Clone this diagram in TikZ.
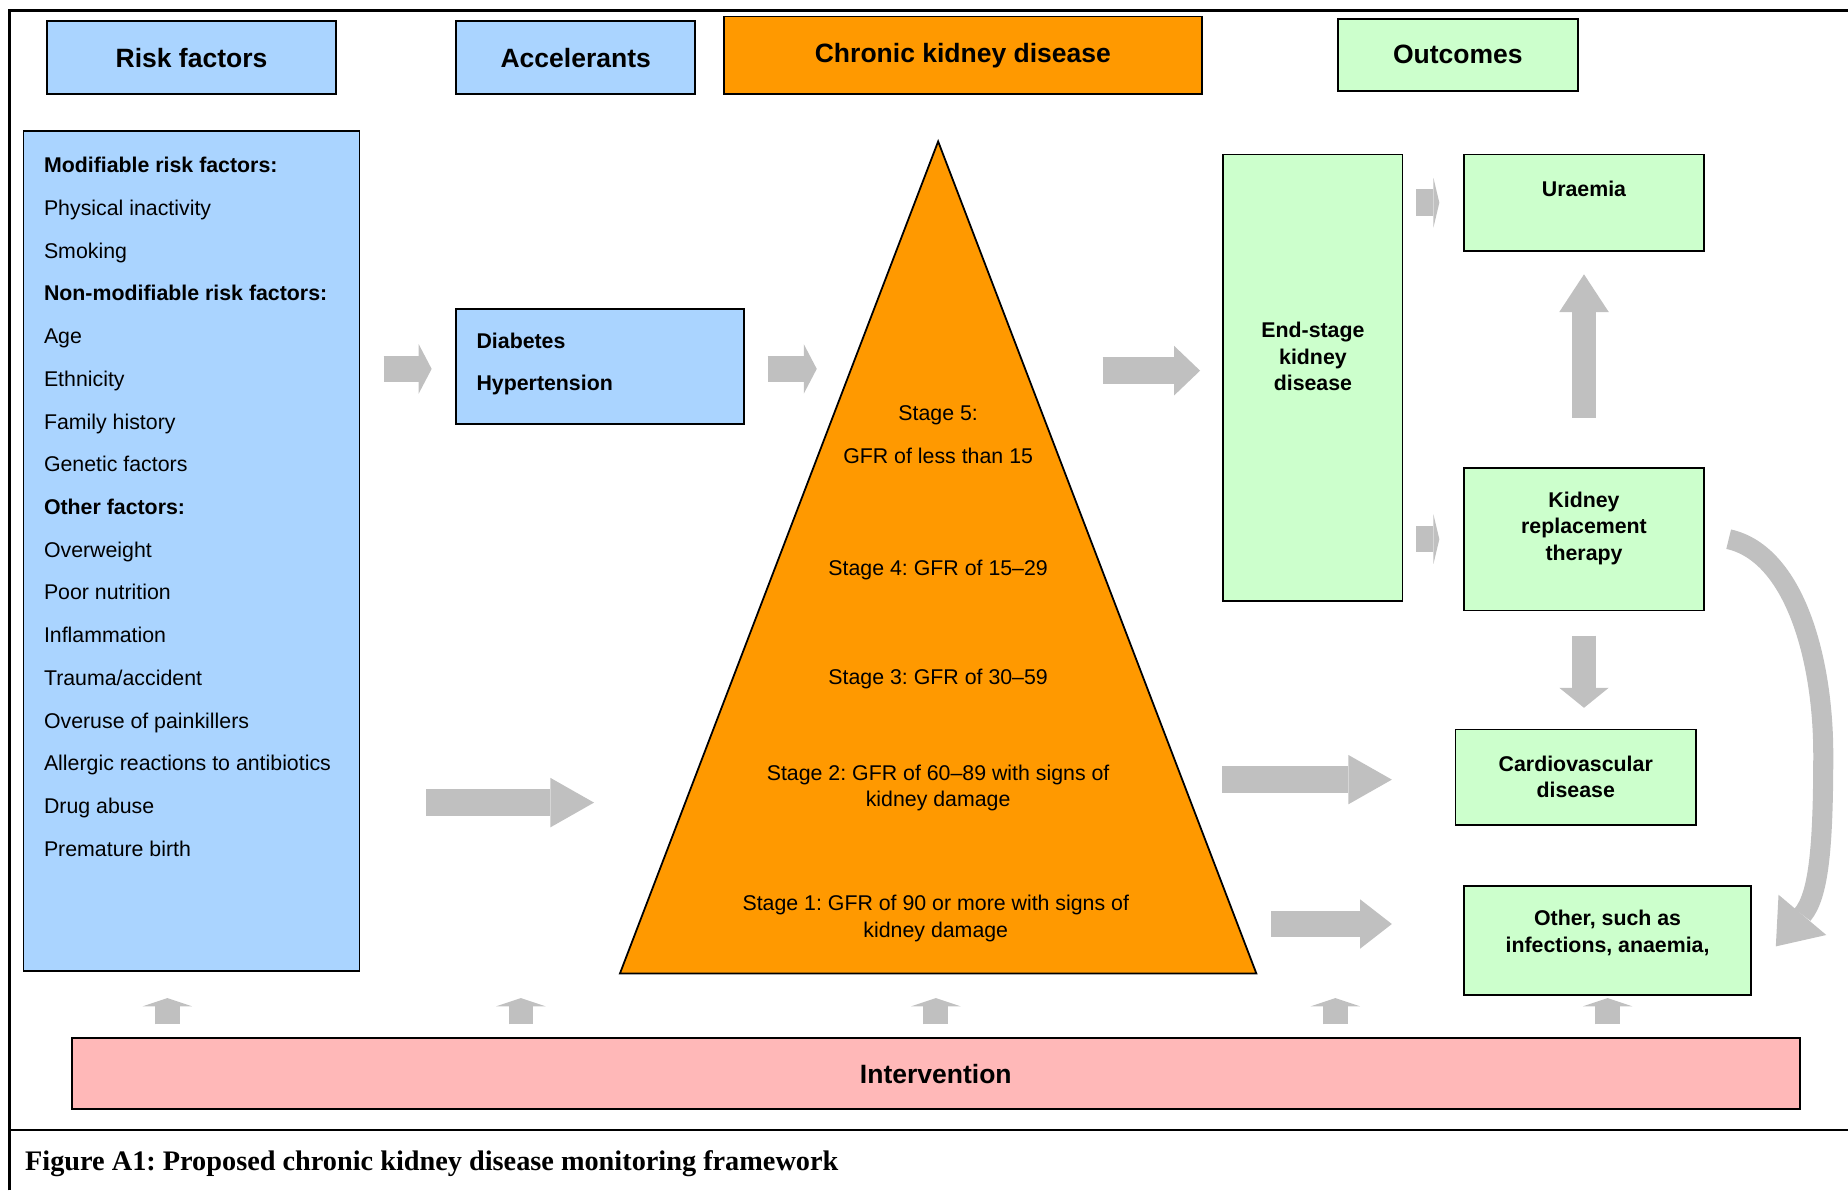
\documentclass[tikz,border=0pt]{standalone}
\usepackage{fontspec}
\setmainfont{Liberation Sans}
\newfontfamily\capfont{Liberation Serif}
\usetikzlibrary{arrows.meta}
\definecolor{ink}{HTML}{000000}
\definecolor{riskblue}{HTML}{AAD4FF}
\definecolor{ckdorange}{HTML}{FF9900}
\definecolor{outgreen}{HTML}{CCFFCC}
\definecolor{intpink}{HTML}{FFB8B8}
\definecolor{arrgray}{HTML}{C0C0C0}
\newlength{\pxu}
\setlength{\pxu}{0.02cm}
\frenchspacing

\begin{document}
\begin{tikzpicture}[
  x=0.02cm,y=-0.02cm,
  frame/.style={draw=ink,line width=2\pxu},
  hdr/.style={draw=ink,line width=1.5\pxu,inner sep=0pt,font=\fontsize{12.8}{15}\selectfont\bfseries},
  box/.style={draw=ink,line width=1.5\pxu,inner sep=0pt},
  txt/.style={inner sep=0pt,align=center,font=\fontsize{10.3}{12.8}\selectfont},
  btxt/.style={txt,font=\fontsize{10.3}{12.8}\selectfont\bfseries},
  item/.style={anchor=base west,inner sep=0pt,font=\fontsize{10.3}{12.8}\selectfont},
  blk/.style={draw=arrgray,line width=22.5\pxu,-{Triangle[width=0.84cm,length=#1,line width=0pt]}},
  curv/.style={draw=arrgray,line width=17\pxu,-{Triangle[width=1.06cm,length=0.7cm,line width=0pt]}}
]
\useasboundingbox (0,0) rectangle (1568,1010);
\draw[frame] (8,1010) -- (8,9) -- (1568,9);
\draw[frame] (8,959) -- (1568,959);

% column headers
\node[hdr,fill=riskblue,minimum width=245\pxu,minimum height=62\pxu] (hrisk) at (162.5,49) {Risk factors};
\node[hdr,fill=riskblue,minimum width=203\pxu,minimum height=62\pxu] (hacc) at (488.5,49) {Accelerants};
\node[hdr,fill=ckdorange,minimum width=406\pxu,minimum height=66\pxu] (hckd) at (817,47) {Chronic kidney disease};
\node[hdr,fill=outgreen,minimum width=204\pxu,minimum height=61\pxu] (hout) at (1237,46.5) {Outcomes};

% risk factors
\node[box,fill=riskblue,minimum width=285\pxu,minimum height=713\pxu] (rbox) at (162.5,467.5) {};
\foreach \itm [count=\i from 0] in {\textbf{Modifiable risk factors:},Physical inactivity,Smoking,
  \textbf{Non-modifiable risk factors:},Age,Ethnicity,Family history,Genetic factors,
  \textbf{Other factors:},Overweight,Poor nutrition,Inflammation,Trauma/accident,
  Overuse of painkillers,Allergic reactions to antibiotics,Drug abuse,Premature birth}
  \node[item] (rf\i) at (37,{146.5+36.25*\i}) {\itm};

% accelerants
\node[box,fill=riskblue,minimum width=244\pxu,minimum height=98\pxu] (diab) at (509,311) {};
\node[item,font=\fontsize{10.3}{12.8}\selectfont\bfseries] (diabt) at (404,295.5) {Diabetes};
\node[item,font=\fontsize{10.3}{12.8}\selectfont\bfseries] (hypt) at (404,331.5) {Hypertension};

% ckd stages
\coordinate (apex) at (796,120);
\coordinate (ckdbl) at (526,826);
\coordinate (ckdbr) at (1066,826);
\draw[draw=ink,fill=ckdorange,line width=1.5\pxu] (apex) -- (ckdbr) -- (ckdbl) -- cycle;
\node[txt] (s5a) at (796,352) {Stage 5:};
\node[txt] (s5b) at (796,387) {GFR of less than 15};
\node[txt] (s4) at (796,484) {Stage 4: GFR of 15\textendash29};
\node[txt] (s3) at (796,576) {Stage 3: GFR of 30\textendash59};
\node[txt] (s2) at (796,668.5) {Stage 2: GFR of 60\textendash89 with signs of\\kidney damage};
\node[txt] (s1) at (794,779.5) {Stage 1: GFR of 90 or more with signs of\\kidney damage};

% outcomes
\node[box,fill=outgreen,minimum width=152\pxu,minimum height=379\pxu] (eskd) at (1114,320.5) {};
\node[btxt] (eskdt) at (1114,302.5) {End-stage\\kidney\\disease};
\node[box,fill=outgreen,minimum width=204\pxu,minimum height=82\pxu] (ura) at (1344,172) {};
\node[btxt] (urat) at (1344,160) {Uraemia};
\node[box,fill=outgreen,minimum width=204\pxu,minimum height=121\pxu] (krt) at (1344,457.5) {};
\node[btxt] (krtt) at (1344,448) {Kidney\\replacement\\therapy};
\node[box,fill=outgreen,minimum width=204\pxu,minimum height=81\pxu] (cvd) at (1337,659.5) {};
\node[btxt] (cvdt) at (1337,659) {Cardiovascular\\disease};
\node[box,fill=outgreen,minimum width=244\pxu,minimum height=92\pxu] (other) at (1364,798) {};
\node[btxt] (othert) at (1364,791.5) {Other, such as\\infections, anaemia,};

% intervention
\node[hdr,fill=intpink,minimum width=1466\pxu,minimum height=60\pxu] (interv) at (794,911) {Intervention};

% caption
\node[anchor=west,inner sep=0pt,font=\capfont\bfseries\fontsize{13.66}{16}\selectfont] (cap) at (21,987)
  {Figure A1: Proposed chronic kidney disease monitoring framework};

% block arrows
\coordinate (ckdw) at (693,313);
\coordinate (ckde) at (935.6,314.5);
\coordinate (ckdsw) at (504,681);
\coordinate (ckdse) at (1037,661.5);
\coordinate (ckdbe) at (1078.5,784);
\draw[blk=0.22cm,shorten <=19.7\pxu,shorten >=20\pxu] (rbox.east |- ckdw) -- (ckdw -| diab.west);
\draw[blk=0.22cm,shorten <=19.5\pxu] (ckdw -| diab.east) -- (ckdw);
\draw[blk=0.44cm,shorten >=19\pxu] (ckde) -- (ckde -| eskd.west);
\draw[blk=0.74cm,shorten <=56\pxu] (rbox.east |- ckdsw) -- (ckdsw);
\draw[blk=0.74cm,shorten >=53.3\pxu] (ckdse) -- (ckdse -| cvd.west);
\draw[blk=0.54cm,shorten >=60.3\pxu] (ckdbe) -- (ckdbe -| other.west);
\draw[blk=0.1cm,shorten <=11\pxu,shorten >=20\pxu] (eskd.east |- ura.west) -- (ura.west);
\draw[blk=0.1cm,shorten <=11\pxu,shorten >=20\pxu] (eskd.east |- krt.west) -- (krt.west);
\draw[blk=0.64cm,line width=21\pxu,shorten <=42\pxu,shorten >=19\pxu] (krt.north) -- (ura.south);
\draw[blk=0.34cm,line width=21\pxu,shorten <=20.5\pxu,shorten >=17.7\pxu] (krt.south) -- (krt.south |- cvd.north);
\draw[curv] ([xshift=20\pxu]krt.east) .. controls (1523,470) and (1547,560) .. (1547,640)
  .. controls (1547,720) and (1543,760) .. ([xshift=20\pxu,yshift=-5\pxu]other.east);
\foreach \ax in {142,442,794,1133,1364}
  \draw[blk=0.14cm,line width=21\pxu,shorten <=11\pxu] (interv.north -| \ax,0) -- ++(0,-33.4);
\end{tikzpicture}
\end{document}
